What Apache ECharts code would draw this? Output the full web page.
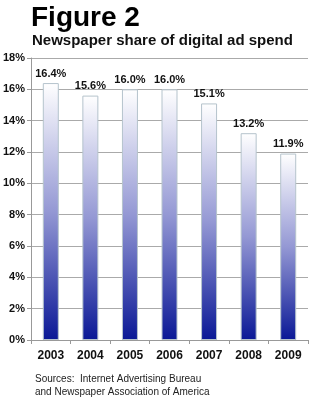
<!DOCTYPE html>
<html><head><meta charset="utf-8">
<script src="https://cdn.jsdelivr.net/npm/echarts@6/dist/echarts.min.js"></script>
<style>html,body{margin:0;padding:0;background:#fff}#c{width:316px;height:400px}</style>
</head><body><div id="c"></div>
<script>
const categories = ['2003','2004','2005','2006','2007','2008','2009'];
const shareValues = [16.4, 15.6, 16.0, 16.0, 15.1, 13.2, 11.9];
const yTicks = [0, 2, 4, 6, 8, 10, 12, 14, 16, 18];

const chart = echarts.init(document.getElementById('c'));
chart.setOption({
  backgroundColor: '#fff',
  animation: false,
  title: [
    {text: 'Figure 2', left: 26, top: -1, textStyle: {fontFamily: 'Liberation Sans, Arial', fontWeight: 900, fontSize: 28, color: '#000'}},
    {text: 'Newspaper share of digital ad spend', left: 27, top: 28, textStyle: {fontFamily: 'Liberation Sans, Arial', fontWeight: 'bold', fontSize: 15, color: '#111'}},
    {text: 'Sources:  Internet Advertising Bureau\nand Newspaper Association of America', left: 30, top: 368, textStyle: {fontFamily: 'Liberation Sans, Arial', fontWeight: 'normal', fontSize: 10, lineHeight: 12.5, color: '#222'}}
  ],
  grid: {left: 31, right: 8, top: 58, bottom: 60, containLabel: false},
  xAxis: {
    type: 'category', data: categories,
    axisLine: {lineStyle: {color: '#999'}},
    axisTick: {show: true, length: 4, lineStyle: {color: '#999'}},
    axisLabel: {fontFamily: 'Liberation Sans, Arial', fontWeight: 'bold', fontSize: 12, color: '#111', margin: 10}
  },
  yAxis: {
    type: 'value', min: 0, max: 18, interval: 2,
    axisLine: {show: true, lineStyle: {color: '#999'}},
    axisTick: {show: true, length: 4, lineStyle: {color: '#999'}},
    splitLine: {lineStyle: {color: '#aaa'}},
    axisLabel: {fontFamily: 'Liberation Sans, Arial', fontWeight: 'bold', fontSize: 11, color: '#111', margin: 6,
      formatter: v => yTicks.includes(v) ? v + '%' : ''}
  },
  series: [{
    type: 'bar', data: shareValues, barWidth: 16,
    itemStyle: {
      borderColor: '#b5c3cc', borderWidth: 1,
      color: new echarts.graphic.LinearGradient(0, 0, 0, 1, [
        {offset: 0, color: '#ffffff'},
        {offset: 0.5, color: '#9498d4'},
        {offset: 1, color: '#0a1896'}
      ])
    },
    label: {show: true, position: 'top', distance: 4, formatter: p => p.value.toFixed(1) + '%',
      fontFamily: 'Liberation Sans, Arial', fontWeight: 'bold', fontSize: 11, color: '#111'}
  }]
});
</script></body></html>
